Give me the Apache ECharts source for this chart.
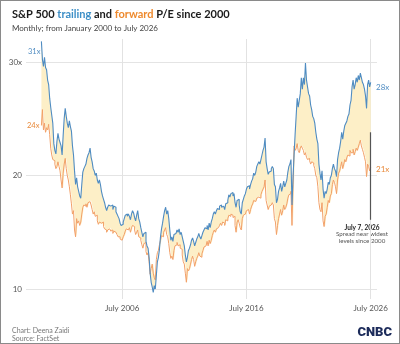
<!DOCTYPE html>
<html>
<head>
<meta charset="utf-8">
<script src="https://cdn.jsdelivr.net/npm/echarts@6/dist/echarts.min.js"></script>
<style>
  html, body { margin: 0; padding: 0; background: #fff; }
  #chart { width: 400px; height: 344px; box-sizing: border-box; border: 1px solid #8a8a8a; }
</style>
</head>
<body>
<div id="chart"></div>
<script>
// trailing P/E, monthly, Jan 2000 .. Jul 2026
const trailing2000s = [
  31.8, 30.2, 29.6, 30.4, 29.5, 29.3, 28.4, 28.0, 26.8, 26.0, 25.3, 24.6,
  22.8, 22.2, 21.9, 23.0, 23.7, 23.2, 22.9, 22.6, 21.8, 23.5, 25.0, 25.9,
  25.2, 24.6, 24.2, 24.8, 24.3, 23.9, 22.6, 21.8, 20.4, 19.2, 19.8, 19.0,
  18.6, 18.2, 18.0, 19.2, 20.3, 20.6, 20.8, 21.0, 21.5, 21.8, 22.0, 22.4,
  21.6, 21.2, 20.6, 20.4, 20.0, 20.2, 19.6, 19.3, 19.6, 19.2, 18.6, 18.2,
  17.9, 17.6, 17.2, 16.9, 17.2, 17.4, 17.3, 17.2, 17.4, 17.0, 17.3, 17.2,
  16.8, 16.6, 16.4, 16.2, 15.8, 15.6, 15.7, 15.9, 16.2, 16.5, 16.6, 16.4,
  16.6, 16.4, 16.1, 16.6, 16.9, 16.7, 16.3, 16.0, 16.5, 16.9, 16.2, 15.9,
  15.4, 15.0, 14.6, 14.9, 15.0, 14.2, 13.8, 13.6, 12.8, 11.4, 10.6, 10.2,
  9.7, 10.3, 10.0, 11.2, 12.4, 12.8, 13.5, 14.6, 15.3, 15.8, 16.4, 16.9
];
const trailing2010s = [
  17.2, 16.6, 16.9, 16.2, 15.2, 14.3, 14.6, 14.2, 14.8, 14.9, 15.0, 15.2,
  15.0, 15.3, 14.8, 15.0, 14.6, 14.2, 13.8, 13.0, 12.4, 12.8, 13.4, 13.6,
  13.9, 14.3, 14.5, 14.2, 13.8, 14.1, 14.4, 14.6, 14.9, 14.6, 14.4, 14.7,
  15.0, 15.2, 15.4, 15.3, 15.6, 15.2, 15.8, 15.4, 15.9, 16.2, 16.6, 16.8,
  16.6, 16.9, 17.1, 17.0, 17.3, 17.4, 17.2, 17.3, 17.4, 17.0, 17.5, 17.6,
  17.8, 18.3, 18.1, 18.4, 18.5, 18.2, 18.4, 17.6, 17.2, 17.8, 17.9, 17.4,
  16.8, 16.6, 17.6, 17.9, 18.2, 18.4, 18.8, 19.0, 19.1, 18.8, 19.2, 19.5,
  19.7, 20.2, 20.0, 20.3, 20.8, 21.0, 21.2, 21.0, 21.4, 21.8, 22.2, 22.5,
  23.3, 21.2, 20.6, 20.1, 20.3, 20.4, 20.6, 20.8, 20.6, 19.2, 19.0, 17.6,
  17.9, 18.6, 18.9, 19.3, 18.6, 19.0, 19.5, 19.0, 19.3, 19.6, 20.3, 20.8
];
const trailing2020s = [
  21.0, 21.4, 17.4, 19.8, 21.8, 23.6, 25.2, 26.8, 26.0, 26.6, 27.2, 28.6,
  27.6, 28.6, 28.0, 29.9, 28.4, 27.8, 27.2, 27.0, 26.2, 25.8, 25.2, 25.0,
  24.6, 23.8, 23.2, 22.8, 21.0, 20.2, 19.6, 20.4, 18.8, 18.0, 18.6, 18.4,
  18.8, 19.4, 19.2, 19.8, 20.0, 20.6, 21.0, 20.6, 20.4, 19.9, 21.4, 22.0,
  22.4, 23.0, 23.8, 23.2, 23.9, 24.4, 24.6, 24.8, 25.2, 25.4, 26.2, 26.6,
  27.8, 28.4, 27.6, 28.0, 28.6, 28.2, 28.8, 28.4, 29.0, 28.6, 28.2, 28.0,
  27.6, 27.0, 25.9, 28.0, 28.4, 27.8, 28.2
];

// forward 12-month P/E, monthly, Jan 2000 .. Jul 2026
const forward2000s = [
  24.4, 25.8, 24.0, 24.6, 23.8, 24.2, 24.0, 24.5, 23.6, 22.4, 21.8, 21.4,
  21.3, 21.0, 20.6, 20.8, 21.2, 20.8, 20.4, 19.6, 18.9, 20.2, 21.0, 21.5,
  20.6, 20.0, 19.6, 19.0, 18.3, 17.5, 16.6, 16.9, 15.2, 14.6, 16.2, 15.8,
  16.0, 15.6, 15.9, 16.6, 17.2, 17.4, 17.3, 17.5, 17.2, 17.6, 17.7, 17.8,
  17.4, 17.0, 16.6, 16.8, 16.4, 16.5, 16.0, 15.7, 15.9, 15.8, 15.7, 15.9,
  15.5, 15.3, 15.2, 15.0, 15.2, 15.3, 15.4, 15.1, 15.2, 14.9, 15.1, 15.0,
  14.9, 14.8, 14.6, 14.6, 14.4, 14.3, 14.4, 14.6, 14.8, 15.1, 15.3, 15.2,
  15.3, 15.4, 15.0, 15.4, 15.6, 15.5, 15.2, 14.8, 15.0, 15.2, 14.6, 14.5,
  14.3, 13.9, 13.6, 14.0, 14.1, 13.3, 13.0, 13.2, 12.4, 11.3, 11.8, 12.2,
  11.4, 11.0, 10.8, 12.6, 13.2, 13.4, 13.9, 14.3, 14.7, 14.6, 15.0, 15.2
];
const forward2010s = [
  15.4, 14.8, 14.6, 14.0, 13.2, 12.7, 12.9, 12.6, 13.4, 13.8, 13.9, 14.1,
  13.8, 13.9, 13.6, 13.5, 13.0, 12.4, 12.2, 11.4, 10.6, 11.8, 11.6, 11.8,
  12.2, 12.6, 12.9, 12.6, 12.0, 12.4, 12.7, 12.9, 13.2, 12.9, 12.8, 13.1,
  13.4, 13.7, 13.8, 13.9, 14.2, 13.8, 14.3, 14.0, 14.3, 14.7, 15.0, 15.2,
  15.0, 15.3, 15.4, 15.5, 15.6, 15.8, 15.6, 15.9, 15.8, 15.6, 16.1, 16.0,
  16.2, 16.5, 16.4, 16.6, 16.5, 16.3, 16.4, 15.6, 15.0, 15.9, 16.1, 15.8,
  15.4, 15.2, 16.2, 16.5, 16.6, 16.5, 16.9, 17.0, 16.9, 16.6, 17.0, 17.3,
  17.5, 17.8, 17.7, 17.8, 18.0, 18.1, 18.2, 18.0, 18.3, 18.6, 18.8, 19.0,
  19.6, 17.8, 17.4, 17.0, 17.3, 17.4, 17.5, 17.6, 17.4, 16.2, 15.9, 14.8,
  15.6, 16.2, 16.6, 17.0, 16.5, 16.9, 17.4, 17.0, 17.2, 17.5, 18.0, 18.3
];
const forward2020s = [
  18.4, 18.6, 15.6, 19.2, 22.6, 22.2, 22.4, 22.8, 22.2, 22.0, 22.4, 22.6,
  22.4, 22.2, 21.8, 22.0, 21.6, 21.4, 21.5, 21.3, 21.0, 21.2, 21.1, 20.9,
  20.6, 20.0, 19.8, 19.0, 17.6, 17.0, 16.8, 17.6, 16.0, 15.5, 16.4, 16.6,
  17.2, 17.8, 17.6, 18.2, 18.4, 19.2, 19.6, 19.4, 19.0, 18.4, 19.6, 20.2,
  20.4, 20.8, 21.2, 20.6, 21.0, 21.4, 21.2, 21.6, 21.8, 21.7, 22.2, 22.0,
  22.0, 22.3, 21.8, 22.1, 22.4, 22.2, 22.5, 22.8, 23.1, 22.6, 22.3, 22.0,
  21.6, 21.2, 19.9, 21.0, 20.8, 20.4, 20.7
];

const trailing = trailing2000s.concat(trailing2010s, trailing2020s);
const forward = forward2000s.concat(forward2010s, forward2020s);

const monthNames = ['Jan', 'Feb', 'Mar', 'Apr', 'May', 'Jun', 'Jul', 'Aug', 'Sep', 'Oct', 'Nov', 'Dec'];
const months = [];
for (let i = 0; i < trailing.length; i++) {
  months.push(monthNames[i % 12] + ' ' + (2000 + Math.floor(i / 12)));
}
const xTicks = {'Jul 2006': 'July 2006', 'Jul 2016': 'July 2016', 'Jul 2026': 'July 2026'};
const yTicks = [10, 20, 30];

const spread = trailing.map((v, i) => +(v - forward[i]).toFixed(2));

const BLUE = '#4f8cc2';
const ORANGE = '#f2a068';
const FILL = '#fdefc7';
const FONT = 'Lato, "Open Sans", sans-serif';

// both grids share the same value->pixel mapping: 30 at y=61, 10 at y=290
const pxPerUnit = (290 - 61) / 20;
const dataTop = 38, dataBottom = 300;

let myChart = echarts.init(document.getElementById('chart'));
myChart.setOption({
  animation: false,
  textStyle: {fontFamily: FONT},
  title: [
    {
      left: 6, top: 3,
      text: '{b|S&P 500 }{t|trailing}{b| and }{f|forward}{b| P/E since 2000}',
      textStyle: {
        rich: {
          b: {fontSize: 11, fontWeight: 'bold', color: '#1a1a1a', fontFamily: FONT},
          t: {fontSize: 11, fontWeight: 'bold', color: '#3d8fc7', fontFamily: FONT},
          f: {fontSize: 11, fontWeight: 'bold', color: '#ee8a2e', fontFamily: FONT}
        }
      }
    },
    {
      left: 6, top: 18,
      text: 'Monthly; from January 2000 to July 2026',
      textStyle: {fontSize: 8, fontWeight: 'normal', color: '#444', fontFamily: FONT}
    },
    {
      left: 6, top: 321,
      text: 'Chart: Deena Zaidi\nSource: FactSet',
      textStyle: {fontSize: 7, fontWeight: 'normal', color: '#777', lineHeight: 8, fontFamily: FONT}
    }
  ],
  grid: [
    {left: 25, right: 22, top: 61, bottom: 54},
    {left: 40.4, right: 28.3, top: dataTop, bottom: 344 - dataBottom}
  ],
  xAxis: [
    {gridIndex: 0, type: 'value', show: false, min: 0, max: 1},
    {
      gridIndex: 1,
      type: 'category',
      boundaryGap: false,
      data: months,
      axisLine: {show: false},
      axisTick: {show: false},
      axisLabel: {
        interval: (i, v) => v in xTicks,
        formatter: v => xTicks[v] || '',
        fontSize: 8, color: '#555', margin: 5
      },
      splitLine: {
        show: true,
        interval: (i, v) => v in xTicks,
        lineStyle: {color: '#e2e2e2', width: 1}
      }
    }
  ],
  yAxis: [
    {
      gridIndex: 0, type: 'value',
      min: yTicks[0], max: yTicks[2], interval: 10,
      axisLine: {show: false},
      axisTick: {show: false},
      axisLabel: {
        formatter: v => (v === 30 ? v + 'x' : '' + v),
        fontSize: 8, color: '#555', margin: 4
      },
      splitLine: {lineStyle: {color: '#e4e4e4', width: 1}}
    },
    {
      gridIndex: 1, type: 'value', show: false,
      min: 10 - (dataBottom - 290) / pxPerUnit,
      max: 30 + (61 - dataTop) / pxPerUnit,
      splitLine: {show: false}
    }
  ],
  series: [
    {
      name: 'base', type: 'line', xAxisIndex: 1, yAxisIndex: 1,
      data: forward, stack: 'pe', stackStrategy: 'all', step: 'end',
      symbol: 'none', lineStyle: {opacity: 0}, silent: true
    },
    {
      name: 'spread', type: 'line', xAxisIndex: 1, yAxisIndex: 1,
      data: spread, stack: 'pe', stackStrategy: 'all', step: 'end',
      symbol: 'none', lineStyle: {opacity: 0},
      areaStyle: {color: FILL, opacity: 1}, silent: true
    },
    {
      name: 'forward', type: 'line', xAxisIndex: 1, yAxisIndex: 1,
      data: forward, step: 'end', symbol: 'none',
      lineStyle: {color: ORANGE, width: 1}
    },
    {
      name: 'trailing', type: 'line', xAxisIndex: 1, yAxisIndex: 1,
      data: trailing, step: 'end', symbol: 'none',
      lineStyle: {color: BLUE, width: 1.1},
      markLine: {
        silent: true, symbol: 'none', label: {show: false},
        lineStyle: {color: '#555', width: 1.2, type: 'solid'},
        data: [[{coord: ['Jul 2026', 23.8]}, {coord: ['Jul 2026', 16.1]}]]
      }
    }
  ],
  graphic: [
    {type: 'text', left: 27, top: 47, style: {text: '31x', fontSize: 7.5, fill: BLUE, fontFamily: FONT}},
    {type: 'text', left: 26, top: 121, style: {text: '24x', fontSize: 7.5, fill: '#e8893a', fontFamily: FONT}},
    {type: 'text', left: 375, top: 82, style: {text: '28x', fontSize: 8, fill: BLUE, fontFamily: FONT}},
    {type: 'text', left: 375, top: 164, style: {text: '21x', fontSize: 8, fill: '#e8893a', fontFamily: FONT}},
    {type: 'text', x: 361, y: 223, style: {text: 'July 7, 2026', fontSize: 6.5, fontWeight: 'bold', fill: '#222', align: 'center', fontFamily: FONT}},
    {type: 'text', x: 361, y: 230, style: {text: 'Spread near widest\nlevels since 2000', fontSize: 6.2, lineHeight: 7, fill: '#555', align: 'center', fontFamily: FONT}},
    {type: 'text', right: 7, top: 325, style: {text: 'CNBC', fontSize: 13, fontWeight: 900, fill: '#1c2b5a', fontFamily: 'Roboto, sans-serif'}}
  ]
});
</script>
</body>
</html>
